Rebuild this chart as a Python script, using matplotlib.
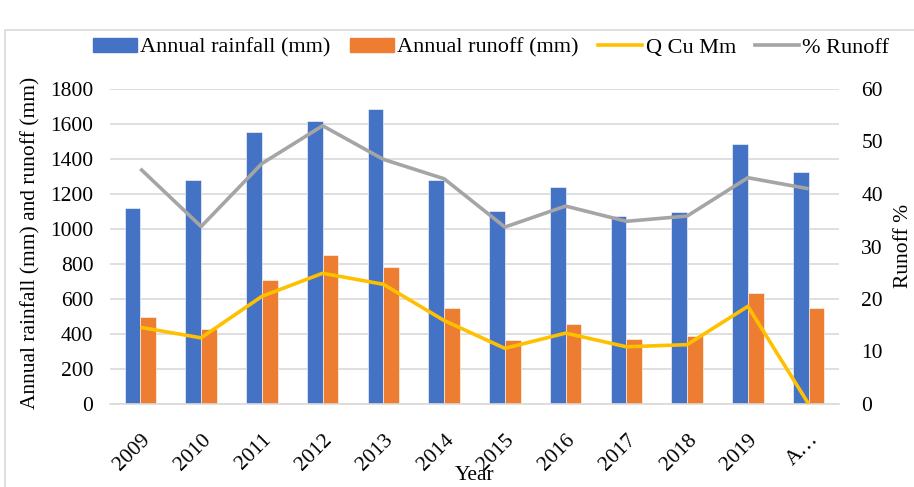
import matplotlib.pyplot as plt
import numpy as np
from matplotlib.patches import Rectangle
from matplotlib.lines import Line2D
from matplotlib.patches import Patch

plt.rcParams["font.family"] = ["Liberation Serif", "DejaVu Serif"]

# data
years = ["2009", "2010", "2011", "2012", "2013", "2014", "2015", "2016",
         "2017", "2018", "2019", "A…"]
rainfall = [1122, 1280, 1556, 1619, 1688, 1282, 1103, 1242, 1076, 1095, 1486, 1324]
runoff = [499, 429, 709, 851, 781, 547, 368, 459, 371, 390, 636, 550]
q_cu_mm = [14.6, 12.6, 20.5, 24.9, 22.8, 15.9, 10.6, 13.5, 10.9, 11.3, 18.6, 0]
pct_runoff = [44.8, 33.8, 45.8, 53.0, 46.6, 42.9, 33.7, 37.7, 34.8, 35.8, 43.1, 41.0]

blue = "#4472C4"
orange = "#ED7D31"
yellow = "#FFC000"
grey = "#A5A5A5"
fs = 15.5

fig = plt.figure(figsize=(9.14, 4.87), dpi=100)
ax = fig.add_axes([110 / 914, 1 - 404 / 487, 729 / 914, 315 / 487])
ax2 = ax.twinx()

# chart frame
fig.patches.append(Rectangle((5 / 914, -0.1), 1.1, 1 - 30 / 487 + 0.1,
                             transform=fig.transFigure, fill=False,
                             edgecolor="#d9d9d9", lw=1.2))

x = np.arange(len(years))
w = 0.26
ax.bar(x - w / 2, rainfall, w, color=blue, edgecolor="white", lw=0.4, zorder=2)
ax.bar(x + w / 2, runoff, w, color=orange, edgecolor="white", lw=0.4, zorder=2)

ax.set_xlim(-0.5, len(years) - 0.5)
ax.set_ylim(0, 1800)
ax.set_yticks(range(0, 1801, 200))
ax.yaxis.grid(True, color="#d9d9d9", lw=1.2, zorder=0)
ax.set_axisbelow(True)
for s in ["top", "right", "left"]:
    ax.spines[s].set_visible(False)
ax.spines["bottom"].set_color("#d9d9d9")
ax.spines["bottom"].set_linewidth(1.2)
ax.tick_params(axis="y", length=0, labelsize=fs, pad=12)
ax.set_xticks(x)
ax.set_xticklabels(years, rotation=45, ha="right", rotation_mode="anchor")
ax.tick_params(axis="x", length=0, labelsize=fs, pad=19)

ax2.plot(x, q_cu_mm, color=yellow, lw=2.6, solid_capstyle="butt", zorder=3)
ax2.plot(x, pct_runoff, color=grey, lw=2.6, solid_capstyle="butt", zorder=3)
ax2.set_ylim(0, 60)
ax2.set_yticks(range(0, 61, 10))
for s in ax2.spines.values():
    s.set_visible(False)
ax2.tick_params(axis="y", length=0, labelsize=fs, pad=16)

fig.text(31 / 914, 1 - 243 / 487, "Annual rainfall (mm) and runoff (mm)",
         fontsize=fs, rotation=90, ha="center", va="center")
fig.text(475 / 914, 1 - 475 / 487, "Year", fontsize=fs, ha="center", va="center")
fig.text(904 / 914, 1 - 246 / 487, "Runoff %", fontsize=fs, rotation=90,
         ha="center", va="center")

handles = [Patch(color=blue), Patch(color=orange),
           Line2D([], [], color=yellow, lw=2.6),
           Line2D([], [], color=grey, lw=2.6)]
labels = ["Annual rainfall (mm)", "Annual runoff (mm)", "Q Cu Mm", "% Runoff"]
fig.legend(handles, labels, loc="center", bbox_to_anchor=(491 / 914, 1 - 48 / 487),
           ncol=4, frameon=False, fontsize=16, handlelength=2.0, handleheight=0.55,
           handletextpad=0.15, columnspacing=0.85)

fig.savefig("out.png", dpi=100, facecolor="white")
